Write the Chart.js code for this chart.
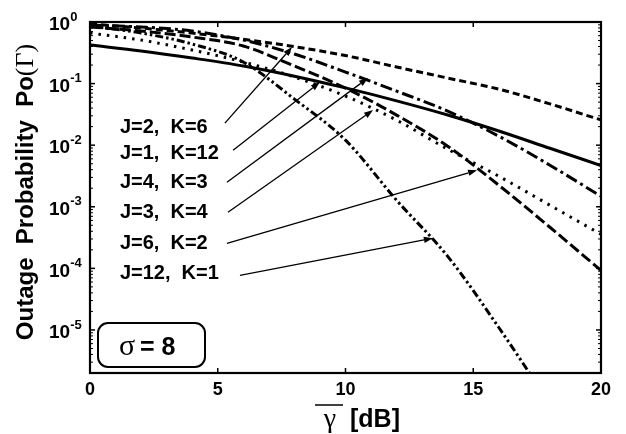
<!DOCTYPE html>
<html><head><meta charset="utf-8">
<script src="https://cdn.jsdelivr.net/npm/chart.js@4.4.0/dist/chart.umd.min.js"></script>
<style>html,body{margin:0;padding:0;background:#fff;}#wrap{width:626px;height:434px;}</style>
</head><body><div id="wrap"><canvas id="c" width="626" height="434"></canvas></div>
<script>
// x values (average SNR in dB)
const snrDb = [0, 2, 4, 6, 8, 10, 12, 14, 16, 18, 20];
// outage probability series
const pJ2K6  = [0.927, 0.798, 0.661, 0.525, 0.398, 0.285, 0.186, 0.123, 0.0813, 0.0468, 0.0257];
const pJ1K12 = [0.423, 0.339, 0.260, 0.193, 0.132, 0.0851, 0.0525, 0.0309, 0.0170, 0.00891, 0.00468];
const pJ4K3  = [0.893, 0.830, 0.714, 0.509, 0.302, 0.154, 0.0755, 0.0357, 0.0140, 0.00473, 0.00148];
const pJ3K4  = [0.662, 0.509, 0.351, 0.224, 0.128, 0.0627, 0.0255, 0.00861, 0.00313, 0.00106, 0.000357];
const pJ6K2  = [0.830, 0.714, 0.570, 0.407, 0.193, 0.0845, 0.0308, 0.00964, 0.00224, 0.000465, 0.0000927];
const pJ12K1 = [0.861, 0.662, 0.439, 0.224, 0.0560, 0.01205, 0.001276, 0.0001567, 0.00001096, 0.00000063];
const seriesLabels = ['J=2,  K=6', 'J=1,  K=12', 'J=4,  K=3', 'J=3,  K=4', 'J=6,  K=2', 'J=12,  K=1'];
// ticks
const xTickValues = [0, 5, 10, 15, 20];
const xTickLabels = ['0', '5', '10', '15', '20'];
const yTickExponents = [0, -1, -2, -3, -4, -5];
const yTickLabels = ['0', '-1', '-2', '-3', '-4', '-5'];
// annotation anchors in data units [dB, probability]
const labelX = 1.17;
const labelY = [0.0196, 0.00741, 0.00251, 0.000814, 0.000255, 0.000083];
const arrowTails = [[5.28, 0.0228], [5.60, 0.0083], [5.36, 0.00251], [5.40, 0.000814], [5.36, 0.000255], [5.87, 0.0000769]];
const arrowHeads = [[7.91, 0.392], [9.00, 0.1057], [10.88, 0.123], [11.08, 0.0371], [15.15, 0.00392], [13.42, 0.000308]];
const sigmaText = '8';

const SANS = '"Liberation Sans", Arial, Helvetica, sans-serif';
const SERIF = '"Liberation Serif", "Times New Roman", serif';

const allSeries = [pJ2K6, pJ1K12, pJ4K3, pJ3K4, pJ6K2, pJ12K1];
const dashes = [[7, 4], [], [12, 4, 3, 4], [2.5, 6], [11, 4], [8, 3, 2.5, 3, 2.5, 3]];
const datasets = allSeries.map((arr, i) => ({
  label: seriesLabels[i],
  data: arr.map((v, k) => ({x: snrDb[k], y: v})),
  borderColor: '#000',
  borderWidth: 3,
  borderDash: dashes[i],
  pointRadius: 0,
  fill: false,
  cubicInterpolationMode: 'monotone'
}));

function line(ctx, x1, y1, x2, y2) { ctx.beginPath(); ctx.moveTo(x1, y1); ctx.lineTo(x2, y2); ctx.stroke(); }

const deco = {
  id: 'deco',
  beforeDraw(chart) {
    const c = chart.ctx; c.save(); c.fillStyle = '#fff'; c.fillRect(0, 0, chart.width, chart.height); c.restore();
  },
  afterDraw(chart) {
    const ctx = chart.ctx, xs = chart.scales.x, ys = chart.scales.y, a = chart.chartArea;
    ctx.save();
    ctx.strokeStyle = '#000'; ctx.fillStyle = '#000'; ctx.setLineDash([]);
    // ticks
    ctx.lineWidth = 1.5;
    xTickValues.forEach(v => {
      const px = xs.getPixelForValue(v);
      line(ctx, px, a.bottom, px, a.bottom - 5);
      line(ctx, px, a.top, px, a.top + 5);
    });
    yTickExponents.forEach(e => {
      const py = ys.getPixelForValue(Math.pow(10, e));
      line(ctx, a.left, py, a.left + 5, py);
      line(ctx, a.right, py, a.right - 5, py);
    });
    ctx.lineWidth = 1;
    for (let e = -6; e < 0; e++) {
      for (let m = 2; m <= 9; m++) {
        const v = m * Math.pow(10, e);
        if (v < ys.min || v > ys.max) continue;
        const py = ys.getPixelForValue(v);
        line(ctx, a.left, py, a.left + 3, py);
        line(ctx, a.right, py, a.right - 3, py);
      }
    }
    // frame
    ctx.lineWidth = 2.2;
    ctx.strokeRect(a.left, a.top, a.right - a.left, a.bottom - a.top);

    // y tick labels
    ctx.textBaseline = 'middle'; ctx.textAlign = 'left';
    yTickExponents.forEach((e, i) => {
      const py = ys.getPixelForValue(Math.pow(10, e));
      ctx.font = 'bold 19px ' + SANS;
      ctx.fillText('10', 49, py + 3);
      const w = ctx.measureText('10').width;
      ctx.font = 'bold 13px ' + SANS;
      ctx.fillText(yTickLabels[i], 49 + w, py - 5);
    });
    // x tick labels
    ctx.textAlign = 'center';
    ctx.font = 'bold 18px ' + SANS;
    xTickValues.forEach((v, i) => {
      ctx.fillText(xTickLabels[i], xs.getPixelForValue(v), 390);
    });

    // x title
    ctx.textBaseline = 'alphabetic';
    ctx.font = '28px ' + SERIF;
    ctx.textAlign = 'center';
    ctx.fillText('\u03B3', 330, 427);
    ctx.lineWidth = 1.5;
    line(ctx, 315, 405, 343, 405);
    ctx.textAlign = 'left';
    ctx.font = 'bold 25px ' + SANS;
    ctx.fillText('[dB]', 350, 427);

    // y title
    ctx.save();
    ctx.translate(33, 192);
    ctx.rotate(-Math.PI / 2);
    const part1 = 'Outage  Probability  Po';
    const part2 = '(\u0393)';
    ctx.font = 'bold 24px ' + SANS;
    const w1 = ctx.measureText(part1).width;
    ctx.font = '26px ' + SERIF;
    const w2 = ctx.measureText(part2).width;
    let sx = -(w1 + w2) / 2;
    ctx.textAlign = 'left';
    ctx.font = 'bold 24px ' + SANS;
    ctx.fillText(part1, sx, 0);
    ctx.font = '26px ' + SERIF;
    ctx.fillText(part2, sx + w1, 0);
    ctx.restore();

    // annotation labels
    ctx.font = 'bold 20px ' + SANS;
    ctx.textAlign = 'left'; ctx.textBaseline = 'middle';
    seriesLabels.forEach((t, i) => {
      ctx.fillText(t, xs.getPixelForValue(labelX), ys.getPixelForValue(labelY[i]));
    });
    // arrows
    ctx.lineWidth = 1.3;
    arrowTails.forEach((tl, i) => {
      const x1 = xs.getPixelForValue(tl[0]), y1 = ys.getPixelForValue(tl[1]);
      const x2 = xs.getPixelForValue(arrowHeads[i][0]), y2 = ys.getPixelForValue(arrowHeads[i][1]);
      const ang = Math.atan2(y2 - y1, x2 - x1);
      const L = 9, W = 3.2;
      const bx = x2 - L * Math.cos(ang), by = y2 - L * Math.sin(ang);
      line(ctx, x1, y1, bx, by);
      ctx.beginPath();
      ctx.moveTo(x2, y2);
      ctx.lineTo(bx + W * Math.sin(ang), by - W * Math.cos(ang));
      ctx.lineTo(bx - W * Math.sin(ang), by + W * Math.cos(ang));
      ctx.closePath(); ctx.fill();
    });

    // sigma box
    const bx0 = a.left + 8, by0 = a.bottom - 50, bw = 107, bh = 44, r = 10;
    ctx.lineWidth = 2;
    ctx.beginPath();
    ctx.moveTo(bx0 + r, by0);
    ctx.arcTo(bx0 + bw, by0, bx0 + bw, by0 + bh, r);
    ctx.arcTo(bx0 + bw, by0 + bh, bx0, by0 + bh, r);
    ctx.arcTo(bx0, by0 + bh, bx0, by0, r);
    ctx.arcTo(bx0, by0, bx0 + bw, by0, r);
    ctx.closePath(); ctx.stroke();
    ctx.textBaseline = 'alphabetic'; ctx.textAlign = 'left';
    ctx.font = '30px ' + SERIF;
    ctx.fillText('\u03C3', 119, 355);
    ctx.font = 'bold 25px ' + SANS;
    ctx.fillText('= ' + sigmaText, 140, 355);
    ctx.restore();
  }
};

new Chart(document.getElementById('c'), {
  type: 'line',
  data: { datasets },
  options: {
    responsive: false,
    animation: false,
    layout: { padding: { left: 90, right: 25, top: 22, bottom: 61 } },
    plugins: { legend: { display: false }, tooltip: { enabled: false } },
    scales: {
      x: { type: 'linear', min: 0, max: 20, display: false },
      y: { type: 'logarithmic', min: 2e-6, max: 1, display: false }
    }
  },
  plugins: [deco]
});
</script>
</body></html>
